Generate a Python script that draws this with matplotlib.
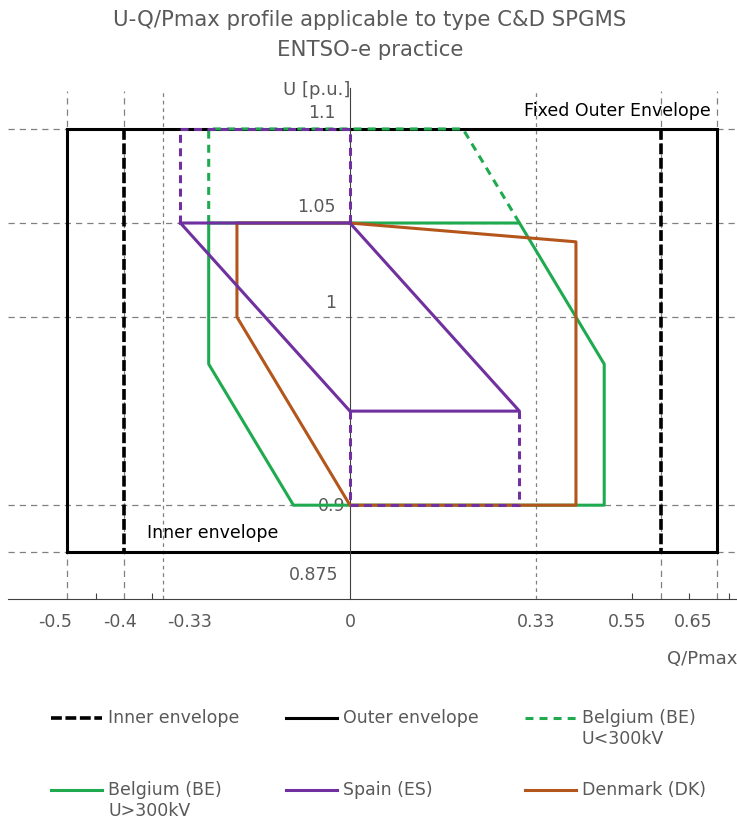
import matplotlib
matplotlib.use("Agg")
from matplotlib import pyplot as plt

plt.rcParams['font.family'] = ['DejaVu Sans']

# ---------------------------------------------------------
# data (Q/Pmax, U p.u.)

outer_q = [-0.5, 0.65, 0.65, -0.5, -0.5]
outer_u = [1.1, 1.1, 0.875, 0.875, 1.1]

inner_left_q = [-0.4, -0.4]
inner_right_q = [0.55, 0.55]
inner_u = [1.1, 0.875]

be_low_q = [-0.25, -0.25, 0.2, 0.3]
be_low_u = [1.05, 1.1, 1.1, 1.05]

be_high_q = [-0.25, 0.3, 0.45, 0.45, -0.1, -0.25, -0.25]
be_high_u = [1.05, 1.05, 0.975, 0.9, 0.9, 0.975, 1.05]

es_q = [-0.3, 0.0, 0.3, 0.0, -0.3]
es_u = [1.05, 1.05, 0.95, 0.95, 1.05]
es_ext_top_q = [-0.3, -0.3, 0.0, 0.0]
es_ext_top_u = [1.05, 1.1, 1.1, 1.05]
es_ext_bot_q = [0.0, 0.0, 0.3, 0.3]
es_ext_bot_u = [0.95, 0.9, 0.9, 0.95]

dk_q = [0.0, 0.4, 0.4, 0.0, -0.2, -0.2, 0.0]
dk_u = [1.05, 1.04, 0.9, 0.9, 1.0, 1.05, 1.05]

grid_u = [1.1, 1.05, 1.0, 0.9, 0.875]
grid_q = [-0.5, -0.4, -0.33, 0.33, 0.55, 0.65]
grid_q_fine = [-0.33, 0.33]

xtick_vals = [-0.5, -0.4, -0.33, 0, 0.33, 0.55, 0.65]
xtick_labels = ['-0.5', '-0.4', '-0.33', '0', '0.33', '0.55', '0.65']
xtick_shift = [-9, -3, 19, 0, 0, -24, -17]

ytick_vals = [1.1, 1.05, 1.0, 0.9, 0.875]
ytick_labels = ['1.1', '1.05', '1', '0.9', '0.875']
ytick_shift = [(-10, 12), (-10, 12), (-10, 11), (-3, 0), (-8, -16)]

minor_q = [-0.45, -0.35, 0.5, 0.6, 0.67]

GREEN = '#1faa50'
PURPLE = '#7030a0'
BROWN = '#b4561c'
GREY = '#808080'
TXT = '#595959'

# ---------------------------------------------------------

fig = plt.figure(figsize=(7.37, 8.2), dpi=100)
ax = fig.add_axes([0.011, 0.268, 0.989, 0.624])
ax.set_xlim(-0.605, 0.685)
ax.set_ylim(0.85, 1.122)

for u in grid_u:
    ax.axhline(u, color=GREY, lw=0.9, ls=(0, (5, 4)), zorder=1)
for q in grid_q:
    ls = (0, (3, 3)) if q in grid_q_fine else (0, (5, 4))
    ax.plot([q, q], [0.85, 1.12], color=GREY, lw=0.9, ls=ls, zorder=1)

ax.plot(outer_q, outer_u, color='black', lw=2.2, solid_joinstyle='miter', zorder=2,
        label='Outer envelope')
ax.plot(inner_left_q, inner_u, color='black', lw=2.6, ls=(0, (3, 1)), zorder=3,
        label='Inner envelope')
ax.plot(inner_right_q, inner_u, color='black', lw=2.6, ls=(0, (3, 1)), zorder=3)

ax.plot(be_low_q, be_low_u, color=GREEN, lw=2.2, ls=(0, (2.6, 2.0)), zorder=4,
        label='Belgium (BE)\nU<300kV')
ax.plot(be_high_q, be_high_u, color=GREEN, lw=2.2, zorder=4,
        label='Belgium (BE)\nU>300kV')
ax.plot(dk_q, dk_u, color=BROWN, lw=2.2, zorder=5, label='Denmark (DK)')
ax.plot(es_q, es_u, color=PURPLE, lw=2.2, zorder=6, label='Spain (ES)')
ax.plot(es_ext_top_q, es_ext_top_u, color=PURPLE, lw=2.2, ls=(0, (2.6, 1.8)), zorder=6)
ax.plot(es_ext_bot_q, es_ext_bot_u, color=PURPLE, lw=2.2, ls=(0, (2.6, 1.8)), zorder=6)

# axes crossing at Q=0 and U=0.85
for side in ['top', 'right']:
    ax.spines[side].set_visible(False)
ax.spines['left'].set_position(('data', 0))
ax.spines['left'].set_color('#404040')
ax.spines['bottom'].set_color('#404040')
ax.spines['left'].set_zorder(2)
ax.set_xticks(minor_q)
ax.set_xticklabels([])
ax.tick_params(axis='x', length=4, color='#404040', direction='in')
ax.set_yticks([])

for q, lab, dx in zip(xtick_vals, xtick_labels, xtick_shift):
    ax.annotate(lab, (q, 0.85), xytext=(dx, -16), textcoords='offset points',
                ha='center', va='center', fontsize=12.5, color=TXT)
for u, lab, (dx, dy) in zip(ytick_vals, ytick_labels, ytick_shift):
    ax.annotate(lab, (0, u), xytext=(dx, dy), textcoords='offset points',
                ha='right', va='center', fontsize=12.5, color=TXT, zorder=3)

ax.text(0.001, 1.1212, 'U [p.u.]', ha='right', va='center', fontsize=13, color=TXT)
ax.text(0.685, 0.819, 'Q/Pmax', ha='right', va='center', fontsize=13, color=TXT,
        clip_on=False)
ax.text(0.639, 1.110, 'Fixed Outer Envelope', ha='right', va='center', fontsize=12.5,
        color='black')
ax.text(-0.359, 0.886, 'Inner envelope', ha='left', va='center', fontsize=12.5,
        color='black')

fig.text(0.502, 0.957, 'U-Q/Pmax profile applicable to type C&D SPGMS\nENTSO-e practice',
         ha='center', va='center', fontsize=15.3, color=TXT, linespacing=1.6)

handles, labels = ax.get_legend_handles_labels()
order = ['Inner envelope', 'Belgium (BE)\nU>300kV', 'Outer envelope', 'Spain (ES)',
         'Belgium (BE)\nU<300kV', 'Denmark (DK)']
lut = dict(zip(labels, handles))
# legend handles sit at the middle of a label: pad every label to three lines
# so the handle lines up with the first text line and rows align across columns
shown = [' \n' + (k if '\n' in k else k + '\n ') for k in order]
leg = fig.legend([lut[k] for k in order], shown, ncol=3, frameon=False,
                 loc='upper left', bbox_to_anchor=(0.069, 0.161), fontsize=12.5,
                 handlelength=2.95, handletextpad=0.35,
                 columnspacing=2.65, labelspacing=0.75, borderpad=0, borderaxespad=0)
for t in leg.get_texts():
    t.set_color(TXT)

fig.savefig('out.png', dpi=100)
